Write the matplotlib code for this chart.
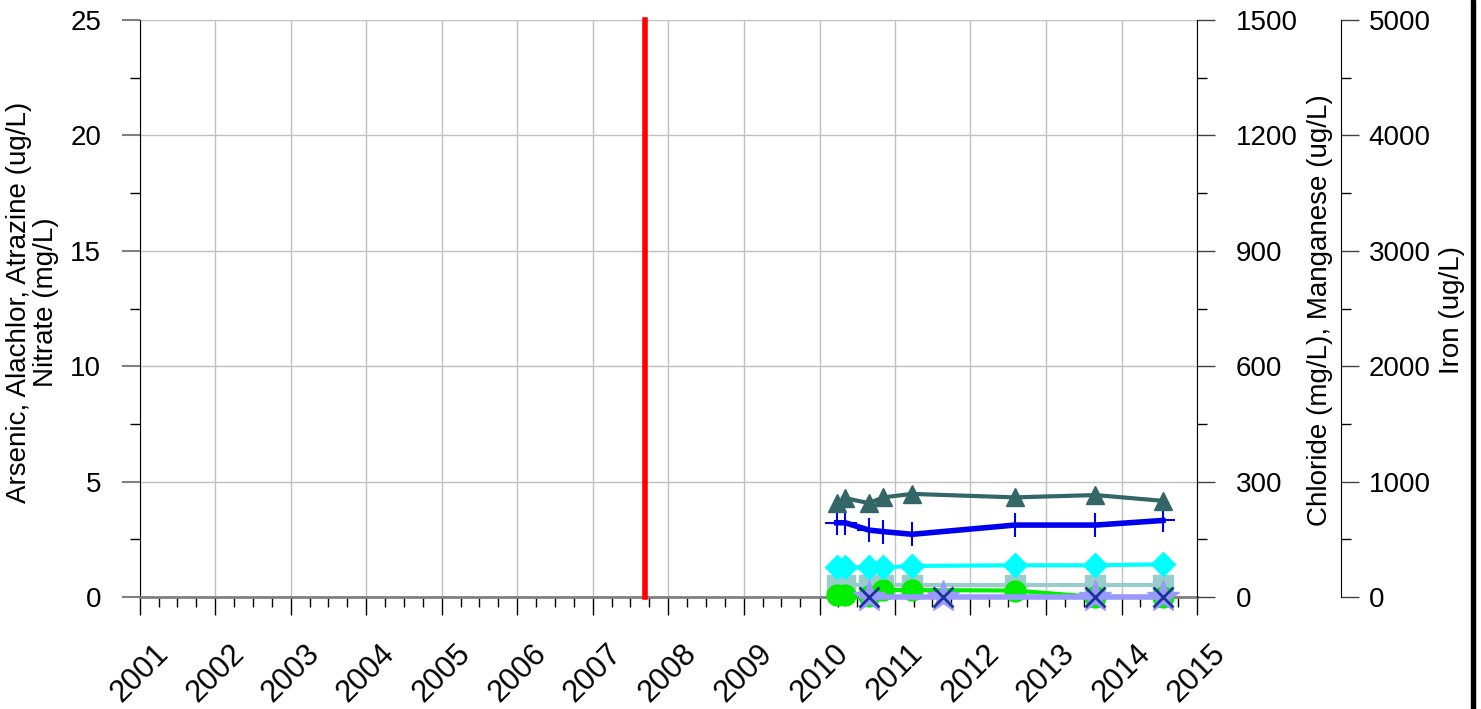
import pandas as pd
import matplotlib
matplotlib.use('Agg')
import matplotlib.pyplot as plt
import matplotlib.dates as mdates
from matplotlib.patches import Rectangle

plt.rcParams['font.family'] = ['Liberation Sans', 'DejaVu Sans']
plt.rcParams['font.size'] = 20

### Data
sample_dates = pd.to_datetime(['2010-03-25', '2010-05-05', '2010-08-28', '2010-11-05',
                               '2011-03-25', '2012-08-03', '2013-08-28', '2014-07-20'])
pest_dates = pd.to_datetime(['2010-08-28', '2011-08-22', '2013-08-28', '2014-07-20'])

chloride = [244, 257, 244, 259, 268, 259, 265, 250]      # mg/L
manganese = [193, 193, 174, 170, 163, 187, 187, 199]     # ug/L
iron = [257, 257, 257, 257, 269, 275, 275, 283]          # ug/L
arsenic = [0.5, 0.5, 0.5, 0.5, 0.5, 0.5, 0.5, 0.5]       # ug/L
nitrate = [0.08, 0.08, 0.05, 0.3, 0.3, 0.28, 0.0, 0.0]   # mg/L
atrazine = [0, 0, 0, 0]                                  # ug/L
alachlor = [0, 0, 0, 0]                                  # ug/L

event_date = pd.to_datetime(['2007-09-10', '2007-09-10'])
event_span = [0, 25]

x_start = pd.Timestamp('2001-01-01')
x_end = pd.Timestamp('2015-01-01')

W, H = 1481, 709
fig = plt.figure(figsize=(W / 100, H / 100), dpi=100)
ax = fig.add_axes([140 / W, 1 - 597 / H, (1197 - 140) / W, (597 - 20) / H])
ax2 = ax.twinx()
ax3 = ax.twinx()
ax3.spines['right'].set_position(('axes', (1341 - 140) / (1197 - 140)))

ax.set_xlim(x_start, x_end)
ax.set_ylim(0, 25)
ax2.set_ylim(0, 1500)
ax3.set_ylim(0, 5000)

ax.set_yticks([0, 5, 10, 15, 20, 25])
ax.set_yticks([2.5, 7.5, 12.5, 17.5, 22.5], minor=True)
ax2.set_yticks([0, 300, 600, 900, 1200, 1500])
ax2.set_yticks([150, 450, 750, 1050, 1350], minor=True)
ax3.set_yticks([0, 1000, 2000, 3000, 4000, 5000])
ax3.set_yticks([500, 1500, 2500, 3500, 4500], minor=True)

ax.xaxis.set_major_locator(mdates.YearLocator())
ax.xaxis.set_major_formatter(mdates.DateFormatter('%Y'))
ax.xaxis.set_minor_locator(mdates.MonthLocator(bymonth=[4, 7, 10]))

ax.grid(True, which='major', color='#c0c0c0', linewidth=1)
ax.set_axisbelow(True)

for a in (ax, ax2, ax3):
    a.spines['top'].set_visible(False)
ax.spines['right'].set_visible(False)
ax2.spines['left'].set_visible(False)
ax2.spines['bottom'].set_visible(False)
ax3.spines['left'].set_visible(False)
ax3.spines['bottom'].set_visible(False)
ax.spines['bottom'].set_color('#808080')
ax.spines['bottom'].set_linewidth(2)
ax.spines['left'].set_color('black')
ax2.spines['right'].set_color('black')
ax3.spines['right'].set_color('black')

ax.tick_params(axis='x', which='major', length=13, width=1, color='black', pad=17,
               labelrotation=45, labelsize=22)
ax.tick_params(axis='x', which='minor', length=7, width=1, color='black')
ax.tick_params(axis='y', which='major', length=13, width=1.5, color='#808080', pad=15)
ax.tick_params(axis='y', which='minor', length=7, width=1, color='black')
ax2.tick_params(axis='y', which='major', length=13, width=1, color='#404040', pad=15)
ax2.tick_params(axis='y', which='minor', length=7, width=1, color='black')
ax3.tick_params(axis='y', which='major', length=13, width=1, color='#404040', pad=7)
ax3.tick_params(axis='y', which='minor', length=7, width=1, color='black')
for lbl in ax.get_xticklabels():
    lbl.set_ha('center')
    lbl.set_va('top')

# event line
ax.plot(event_date, event_span, color='red', linewidth=4, zorder=3, clip_on=False)

# series
ax.plot(sample_dates, arsenic, color='#99cccc', linewidth=3, marker='s',
        markersize=14, zorder=4, clip_on=False)
ax3.plot(sample_dates, iron, color='#00ffff', linewidth=3, marker='D',
         markersize=12, zorder=5, clip_on=False)
ax2.plot(sample_dates, manganese, color='#0000ee', linewidth=4, marker='+',
         markersize=17, markeredgewidth=1.5, zorder=5, clip_on=False)
ax2.plot(sample_dates, chloride, color='#336666', linewidth=3, marker='^',
         markersize=13, zorder=5, clip_on=False)
ax.plot(sample_dates, nitrate, color='#00ee00', linewidth=3, marker='o',
        markersize=15, zorder=5, clip_on=False)
ax.plot(pest_dates, atrazine, color='#9999ff', linewidth=4, marker='*',
        markersize=24, zorder=6, clip_on=False)
ax.plot(pest_dates, alachlor, color='#1a3399', linewidth=0, marker='x',
        markersize=14, markeredgewidth=2, zorder=7, clip_on=False)

fig.text(19 / W, 1 - 302 / H, 'Arsenic, Alachlor, Atrazine (ug/L)', rotation=90,
         ha='center', va='center')
fig.text(46 / W, 1 - 302 / H, 'Nitrate (mg/L)', rotation=90, ha='center', va='center')
fig.text(1320 / W, 1 - 310 / H, 'Chloride (mg/L), Manganese (ug/L)', rotation=90,
         ha='center', va='center')
fig.text(1452 / W, 1 - 310 / H, 'Iron (ug/L)', rotation=90, ha='center', va='center')

# dark frame edge on the right
fig.add_artist(Rectangle((1471 / W, 0), 4 / W, 1, transform=fig.transFigure,
                         color='black'))

fig.savefig('out.png', dpi=100)
